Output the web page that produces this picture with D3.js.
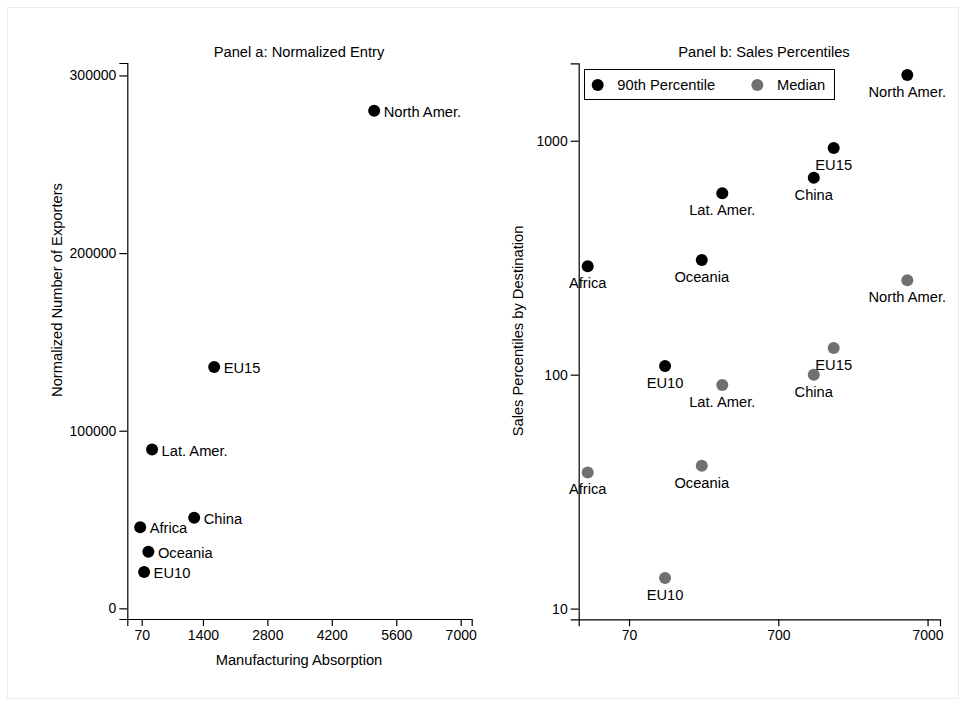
<!DOCTYPE html>
<html>
<head>
<meta charset="utf-8">
<script src="https://cdn.jsdelivr.net/npm/d3@7"></script>
<style>
  html, body { margin: 0; padding: 0; background: #fff; }
  svg { display: block; font-family: "Liberation Sans", Arial, Helvetica, sans-serif; }
</style>
</head>
<body>
<svg id="chart" width="966" height="706"></svg>
<script>
// ---- data ----
const regions    = ["Africa", "EU10", "Oceania", "Lat. Amer.", "China", "EU15", "North Amer."];
const absorption = [37, 122, 215, 295, 1210, 1645, 5120];
const exporters  = [45600, 20400, 31800, 89400, 51000, 135900, 280100];
const p90        = [291, 109, 309, 596, 694, 930, 1910];
const median     = [38.2, 13.5, 40.8, 90.3, 100, 130, 253];
const xTicksA    = [70, 1400, 2800, 4200, 5600, 7000];
const yTicksA    = [0, 100000, 200000, 300000];
const xTicksB    = [70, 700, 7000];
const yTicksB    = [10, 100, 1000];
const seriesNames = ["90th Percentile", "Median"];
const titles = ["Panel a: Normalized Entry", "Panel b: Sales Percentiles"];

const BLACK = "#000000", GRAY = "#707070";
const FS = 14.7, TFS = 14;

const svg = d3.select("#chart");
svg.append("rect").attr("x", 7.5).attr("y", 7.5).attr("width", 951).attr("height", 691)
  .attr("fill", "none").attr("stroke", "#e6eded").attr("stroke-width", 1);

function styleAxis(g) {
  g.selectAll("path.domain").attr("stroke", "#000").attr("stroke-width", 1.2);
  g.selectAll(".tick line").attr("stroke", "#000").attr("stroke-width", 1.2);
  g.selectAll(".tick text").attr("font-size", TFS).attr("fill", "#000")
    .attr("font-family", "Liberation Sans, Arial, sans-serif");
}

// ---- Panel a ----
const xa = d3.scaleLinear().domain([-243, 7239]).range([127.3, 471.7]);
const ya = d3.scaleLinear().domain([-6000, 307000]).range([619, 63]);

const ga = svg.append("g");
ga.append("g").attr("transform", "translate(0,619)")
  .call(d3.axisBottom(xa).tickValues(xTicksA).tickFormat(d3.format("d")).tickSizeOuter(0).tickSize(7).tickPadding(4))
  .call(styleAxis);
ga.append("g").attr("transform", "translate(127.3,0)")
  .call(d3.axisLeft(ya).tickValues(yTicksA).tickFormat(d3.format("d")).tickSizeOuter(0).tickSize(8).tickPadding(3))
  .call(styleAxis);

ga.selectAll("circle.pt").data(regions).join("circle")
  .attr("cx", (d, i) => xa(absorption[i])).attr("cy", (d, i) => ya(exporters[i]))
  .attr("r", 6).attr("fill", BLACK);
ga.selectAll("text.lab").data(regions).join("text")
  .attr("x", (d, i) => xa(absorption[i]) + 9.5).attr("y", (d, i) => ya(exporters[i]) + 6)
  .attr("font-size", FS).attr("fill", "#000").text(d => d);

ga.append("text").attr("x", 299).attr("y", 57).attr("text-anchor", "middle")
  .attr("font-size", FS).text(titles[0]);
ga.append("text").attr("x", 299).attr("y", 665).attr("text-anchor", "middle")
  .attr("font-size", FS).text("Manufacturing Absorption");
ga.append("text").attr("transform", "translate(62,290) rotate(-90)").attr("text-anchor", "middle")
  .attr("font-size", FS).text("Normalized Number of Exporters");

// ---- Panel b ----
const xb = d3.scaleLog().domain([32.2, 8480]).range([578.7, 940]);
const yb = d3.scaleLog().domain([9.0, 2143]).range([619.3, 63.3]);

const gb = svg.append("g");
gb.append("g").attr("transform", "translate(0,619.3)")
  .call(d3.axisBottom(xb).tickValues(xTicksB).tickFormat(d3.format("d")).tickSizeOuter(0).tickSize(7).tickPadding(4))
  .call(styleAxis);
gb.append("g").attr("transform", "translate(578.7,0)")
  .call(d3.axisLeft(yb).tickValues(yTicksB).tickFormat(d3.format("d")).tickSizeOuter(0).tickSize(8).tickPadding(3))
  .call(styleAxis);

const series = [
  { name: seriesNames[0], values: p90, color: BLACK },
  { name: seriesNames[1], values: median, color: GRAY }
];
series.forEach(s => {
  const g = gb.append("g");
  g.selectAll("circle").data(regions).join("circle")
    .attr("cx", (d, i) => xb(absorption[i])).attr("cy", (d, i) => yb(s.values[i]))
    .attr("r", 6).attr("fill", s.color);
  g.selectAll("text").data(regions).join("text")
    .attr("x", (d, i) => xb(absorption[i])).attr("y", (d, i) => yb(s.values[i]) + 22)
    .attr("text-anchor", "middle").attr("font-size", FS).attr("fill", "#000").text(d => d);
});

// legend
const lg = gb.append("g");
lg.append("rect").attr("x", 584.5).attr("y", 69.5).attr("width", 250).attr("height", 30)
  .attr("fill", "#fff").attr("stroke", "#000").attr("stroke-width", 1);
const legX = [597.7, 757.3];
series.forEach((s, i) => {
  lg.append("circle").attr("cx", legX[i]).attr("cy", 85).attr("r", 6).attr("fill", s.color);
  lg.append("text").attr("x", legX[i] + 19.6).attr("y", 90).attr("font-size", FS).text(s.name);
});

gb.append("text").attr("x", 764).attr("y", 57).attr("text-anchor", "middle")
  .attr("font-size", FS).text(titles[1]);
gb.append("text").attr("transform", "translate(523,331) rotate(-90)").attr("text-anchor", "middle")
  .attr("font-size", FS).text("Sales Percentiles by Destination");
</script>
</body>
</html>
